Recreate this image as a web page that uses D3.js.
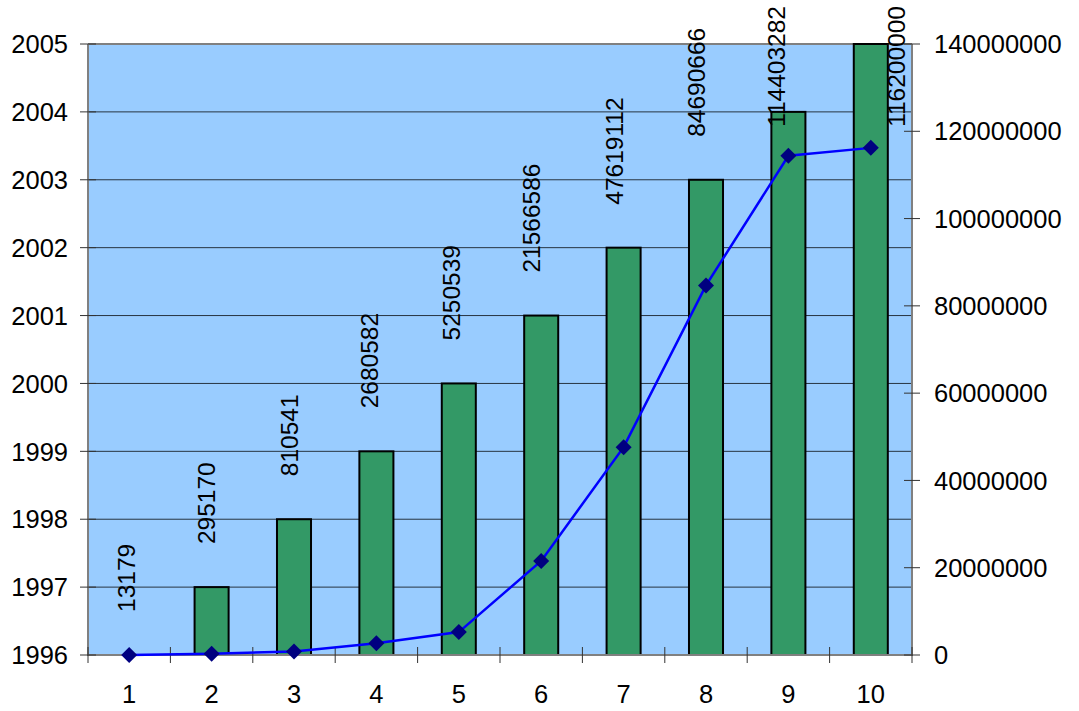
<!DOCTYPE html>
<html>
<head>
<meta charset="utf-8">
<script src="https://cdn.jsdelivr.net/npm/d3@7/dist/d3.min.js"></script>
<style>
  html, body { margin: 0; padding: 0; background: #ffffff; }
  svg { display: block; }
  text { font-family: "Liberation Sans", Arial, sans-serif; fill: #000; }
</style>
</head>
<body>
<svg id="chart" width="1079" height="711"></svg>
<script>
// Category numbers along the bottom axis
const categories = ["1", "2", "3", "4", "5", "6", "7", "8", "9", "10"];
// Bar series: year for each category (left axis)
const years = [1996, 1997, 1998, 1999, 2000, 2001, 2002, 2003, 2004, 2005];
// Line series: counts for each category (right axis)
const counts = [13179, 295170, 810541, 2680582, 5250539, 21566586, 47619112, 84690666, 114403282, 116200000];
// Axis tick values
const leftTicks = [1996, 1997, 1998, 1999, 2000, 2001, 2002, 2003, 2004, 2005];
const rightTicks = [0, 20000000, 40000000, 60000000, 80000000, 100000000, 120000000, 140000000];

const svg = d3.select("#chart");
const plot = { left: 88, right: 912, top: 44, bottom: 655 };

const x = d3.scaleBand().domain(categories).range([plot.left, plot.right]).padding(0);
const xBar = d3.scaleBand().domain(categories).range([plot.left, plot.right])
  .paddingInner(0.587).paddingOuter(0.2935);
const yL = d3.scaleLinear().domain([1996, 2005]).range([plot.bottom, plot.top]);
const yR = d3.scaleLinear().domain([0, 140000000]).range([plot.bottom, plot.top]);
const cx = c => x(c) + x.bandwidth() / 2;

// Plot background
svg.append("rect")
  .attr("x", plot.left).attr("y", plot.top)
  .attr("width", plot.right - plot.left).attr("height", plot.bottom - plot.top)
  .attr("fill", "#99CCFF");

// Horizontal gridlines from the left axis
svg.append("g").selectAll("line")
  .data(leftTicks.slice(1, -1))
  .join("line")
  .attr("x1", plot.left).attr("x2", plot.right)
  .attr("y1", d => yL(d)).attr("y2", d => yL(d))
  .attr("stroke", "#000").attr("stroke-width", 1).attr("stroke-opacity", 0.75);

// Top border of the plot area
svg.append("line")
  .attr("x1", plot.left).attr("x2", plot.right)
  .attr("y1", plot.top).attr("y2", plot.top)
  .attr("stroke", "#808080").attr("stroke-width", 2);

// Bars
svg.append("g").selectAll("rect")
  .data(categories.map((c, i) => ({ c, v: years[i] })))
  .join("rect")
  .attr("x", d => xBar(d.c))
  .attr("width", xBar.bandwidth())
  .attr("y", d => yL(d.v))
  .attr("height", d => yL(1996) - yL(d.v))
  .attr("fill", "#339966")
  .attr("stroke", "#000").attr("stroke-width", 2);

// Axis lines
const axisColor = "#808080";
svg.append("line").attr("x1", plot.left).attr("x2", plot.left)
  .attr("y1", plot.top).attr("y2", plot.bottom + 1)
  .attr("stroke", axisColor).attr("stroke-width", 2);
svg.append("line").attr("x1", plot.right).attr("x2", plot.right)
  .attr("y1", plot.top).attr("y2", plot.bottom + 1)
  .attr("stroke", axisColor).attr("stroke-width", 2);
svg.append("line").attr("x1", plot.left).attr("x2", plot.right)
  .attr("y1", plot.bottom).attr("y2", plot.bottom)
  .attr("stroke", axisColor).attr("stroke-width", 2);

// Left axis ticks and labels
const gL = svg.append("g");
gL.selectAll("line").data(leftTicks).join("line")
  .attr("x1", plot.left - 8).attr("x2", plot.left + 8)
  .attr("y1", d => yL(d)).attr("y2", d => yL(d))
  .attr("stroke", "#333").attr("stroke-width", 1);
gL.selectAll("text").data(leftTicks).join("text")
  .attr("x", 68).attr("y", d => yL(d)).attr("dy", "0.36em")
  .attr("text-anchor", "end").attr("font-size", 25.5)
  .text(d => d);

// Right axis ticks and labels
const gR = svg.append("g");
gR.selectAll("line").data(rightTicks).join("line")
  .attr("x1", plot.right - 8).attr("x2", plot.right + 8)
  .attr("y1", d => yR(d)).attr("y2", d => yR(d))
  .attr("stroke", "#333").attr("stroke-width", 1);
gR.selectAll("text").data(rightTicks).join("text")
  .attr("x", 934).attr("y", d => yR(d)).attr("dy", "0.36em")
  .attr("text-anchor", "start").attr("font-size", 25.5)
  .text(d => d);

// Bottom axis ticks at category boundaries and labels
const gB = svg.append("g");
const bounds = categories.map(c => x(c)).concat([plot.right]);
gB.selectAll("line").data(bounds).join("line")
  .attr("x1", d => d).attr("x2", d => d)
  .attr("y1", plot.bottom - 8).attr("y2", plot.bottom + 8)
  .attr("stroke", "#333").attr("stroke-width", 1);
gB.selectAll("text").data(categories).join("text")
  .attr("x", d => cx(d)).attr("y", 703)
  .attr("text-anchor", "middle").attr("font-size", 25.5)
  .text(d => d);

// Line series
const lineData = categories.map((c, i) => ({ c, v: counts[i] }));
svg.append("path")
  .datum(lineData)
  .attr("d", d3.line().x(d => cx(d.c)).y(d => yR(d.v)))
  .attr("fill", "none").attr("stroke", "#0000FF").attr("stroke-width", 2.5);

// Diamond markers
const s = 8;
svg.append("g").selectAll("path").data(lineData).join("path")
  .attr("transform", d => `translate(${cx(d.c)},${yR(d.v)})`)
  .attr("d", `M0,${-s}L${s},0L0,${s}L${-s},0Z`)
  .attr("fill", "#000080");

// Value labels, rotated, standing above each bar
const labelSize = 24.5;
const gap = 43;
const minTop = 6;
const gLab = svg.append("g");
lineData.forEach((d, i) => {
  const t = gLab.append("text")
    .attr("font-size", labelSize)
    .attr("text-anchor", "start")
    .attr("dy", "0.36em")
    .text(d3.format("d")(d.v));
  const len = t.node().getComputedTextLength();
  let bottom = yL(years[i]) - gap;
  // longer labels sit a little further left of the category centre
  let px = cx(d.c) - (len - 54) * 0.18;
  if (bottom - len < minTop) {
    bottom = minTop + len;
    if (i === categories.length - 1) px = xBar(d.c) + xBar.bandwidth() + 8;
  }
  t.attr("transform", `translate(${px},${bottom}) rotate(-90)`);
});
</script>
</body>
</html>
